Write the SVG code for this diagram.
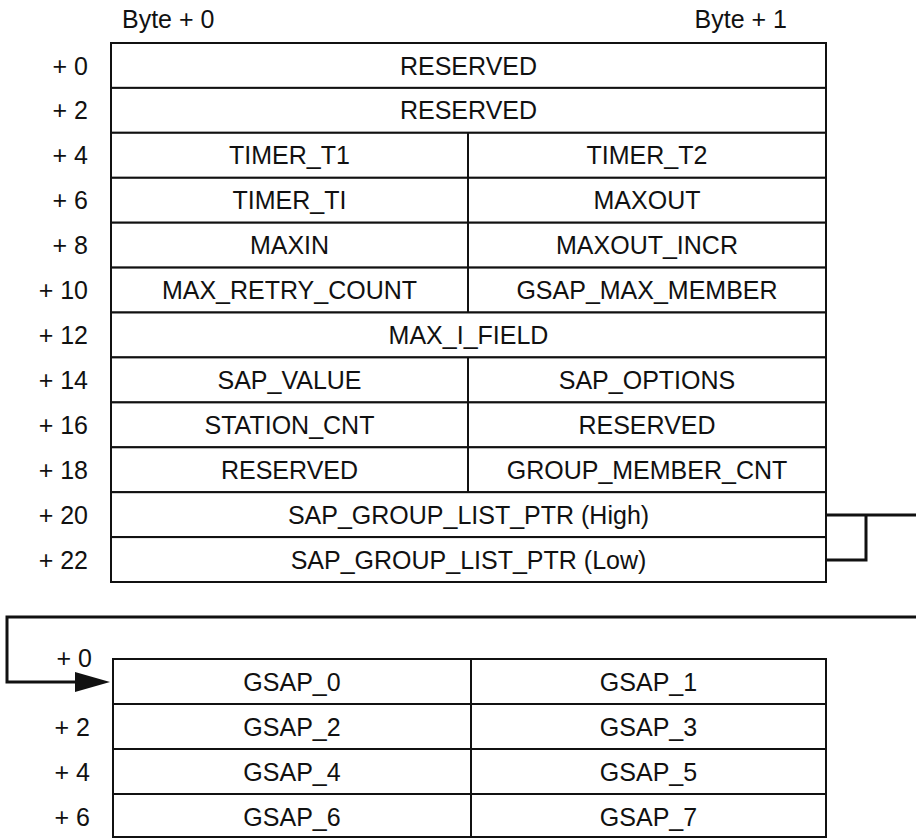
<svg xmlns="http://www.w3.org/2000/svg" width="916" height="839" viewBox="0 0 916 839">
<style>
  .cell { fill: #fff; stroke: #111; stroke-width: 2; }
  .div { stroke: #111; stroke-width: 2; }
  text { font-family: "Liberation Sans", Arial, sans-serif; font-size: 25px; fill: #111; }
  .c { text-anchor: middle; }
  .lbl { text-anchor: end; }
  .conn { fill: none; stroke: #111; stroke-width: 3; }
</style>
<defs>
  <marker id="arrow" markerUnits="userSpaceOnUse" markerWidth="36" markerHeight="22" refX="25" refY="10" orient="auto">
    <path d="M0,0 L35,10 L0,20 z" fill="#111"/>
  </marker>
</defs>
<rect width="916" height="839" fill="#fff"/>

<g id="headers">
  <text x="122" y="28">Byte + 0</text>
  <text x="787" y="28" text-anchor="end">Byte + 1</text>
</g>

<g id="row0">
  <rect class="cell" x="111" y="43" width="715" height="44.9"/>
  <text class="lbl" x="88" y="74.5">+ 0</text>
  <text class="c" x="468.5" y="74.5">RESERVED</text>
</g>
<g id="row2">
  <rect class="cell" x="111" y="87.9" width="715" height="44.9"/>
  <text class="lbl" x="88" y="119.4">+ 2</text>
  <text class="c" x="468.5" y="119.4">RESERVED</text>
</g>
<g id="row4">
  <rect class="cell" x="111" y="132.8" width="715" height="45"/>
  <line class="div" x1="468" y1="132.8" x2="468" y2="177.8"/>
  <text class="lbl" x="88" y="164.3">+ 4</text>
  <text class="c" x="289.5" y="164.3">TIMER_T1</text>
  <text class="c" x="647" y="164.3">TIMER_T2</text>
</g>
<g id="row6">
  <rect class="cell" x="111" y="177.8" width="715" height="44.9"/>
  <line class="div" x1="468" y1="177.8" x2="468" y2="222.7"/>
  <text class="lbl" x="88" y="209.2">+ 6</text>
  <text class="c" x="289.5" y="209.2">TIMER_TI</text>
  <text class="c" x="647" y="209.2">MAXOUT</text>
</g>
<g id="row8">
  <rect class="cell" x="111" y="222.7" width="715" height="44.9"/>
  <line class="div" x1="468" y1="222.7" x2="468" y2="267.6"/>
  <text class="lbl" x="88" y="254.1">+ 8</text>
  <text class="c" x="289.5" y="254.1">MAXIN</text>
  <text class="c" x="647" y="254.1">MAXOUT_INCR</text>
</g>
<g id="row10">
  <rect class="cell" x="111" y="267.6" width="715" height="44.9"/>
  <line class="div" x1="468" y1="267.6" x2="468" y2="312.5"/>
  <text class="lbl" x="88" y="299.1">+ 10</text>
  <text class="c" x="289.5" y="299.1">MAX_RETRY_COUNT</text>
  <text class="c" x="647" y="299.1">GSAP_MAX_MEMBER</text>
</g>
<g id="row12">
  <rect class="cell" x="111" y="312.5" width="715" height="44.9"/>
  <text class="lbl" x="88" y="344">+ 12</text>
  <text class="c" x="468.5" y="344">MAX_I_FIELD</text>
</g>
<g id="row14">
  <rect class="cell" x="111" y="357.4" width="715" height="45"/>
  <line class="div" x1="468" y1="357.4" x2="468" y2="402.4"/>
  <text class="lbl" x="88" y="388.9">+ 14</text>
  <text class="c" x="289.5" y="388.9">SAP_VALUE</text>
  <text class="c" x="647" y="388.9">SAP_OPTIONS</text>
</g>
<g id="row16">
  <rect class="cell" x="111" y="402.4" width="715" height="44.9"/>
  <line class="div" x1="468" y1="402.4" x2="468" y2="447.3"/>
  <text class="lbl" x="88" y="433.8">+ 16</text>
  <text class="c" x="289.5" y="433.8">STATION_CNT</text>
  <text class="c" x="647" y="433.8">RESERVED</text>
</g>
<g id="row18">
  <rect class="cell" x="111" y="447.3" width="715" height="44.9"/>
  <line class="div" x1="468" y1="447.3" x2="468" y2="492.2"/>
  <text class="lbl" x="88" y="478.7">+ 18</text>
  <text class="c" x="289.5" y="478.7">RESERVED</text>
  <text class="c" x="647" y="478.7">GROUP_MEMBER_CNT</text>
</g>
<g id="row20">
  <rect class="cell" x="111" y="492.2" width="715" height="44.9"/>
  <text class="lbl" x="88" y="523.6">+ 20</text>
  <text class="c" x="468.5" y="523.6">SAP_GROUP_LIST_PTR (High)</text>
</g>
<g id="row22">
  <rect class="cell" x="111" y="537.1" width="715" height="44.9"/>
  <text class="lbl" x="88" y="568.6">+ 22</text>
  <text class="c" x="468.5" y="568.6">SAP_GROUP_LIST_PTR (Low)</text>
</g>

<g id="gsap0">
  <rect class="cell" x="113" y="659" width="713" height="45"/>
  <line class="div" x1="471" y1="659" x2="471" y2="704"/>
  <text class="lbl" x="92" y="667">+ 0</text>
  <text class="c" x="292" y="690.5">GSAP_0</text>
  <text class="c" x="648.5" y="690.5">GSAP_1</text>
</g>
<g id="gsap2">
  <rect class="cell" x="113" y="704" width="713" height="45"/>
  <line class="div" x1="471" y1="704" x2="471" y2="749"/>
  <text class="lbl" x="90" y="735.5">+ 2</text>
  <text class="c" x="292" y="735.5">GSAP_2</text>
  <text class="c" x="648.5" y="735.5">GSAP_3</text>
</g>
<g id="gsap4">
  <rect class="cell" x="113" y="749" width="713" height="45"/>
  <line class="div" x1="471" y1="749" x2="471" y2="794"/>
  <text class="lbl" x="90" y="780.5">+ 4</text>
  <text class="c" x="292" y="780.5">GSAP_4</text>
  <text class="c" x="648.5" y="780.5">GSAP_5</text>
</g>
<g id="gsap6">
  <rect class="cell" x="113" y="794" width="713" height="43"/>
  <line class="div" x1="471" y1="794" x2="471" y2="837"/>
  <text class="lbl" x="90" y="825.5">+ 6</text>
  <text class="c" x="292" y="825.5">GSAP_6</text>
  <text class="c" x="648.5" y="825.5">GSAP_7</text>
</g>

<g id="connectors">
  <path class="conn" d="M826,515 H916"/>
  <path class="conn" d="M826,560 H866 V515"/>
  <path class="conn" d="M916,617 H7 V682 H100" marker-end="url(#arrow)"/>
</g>
</svg>
